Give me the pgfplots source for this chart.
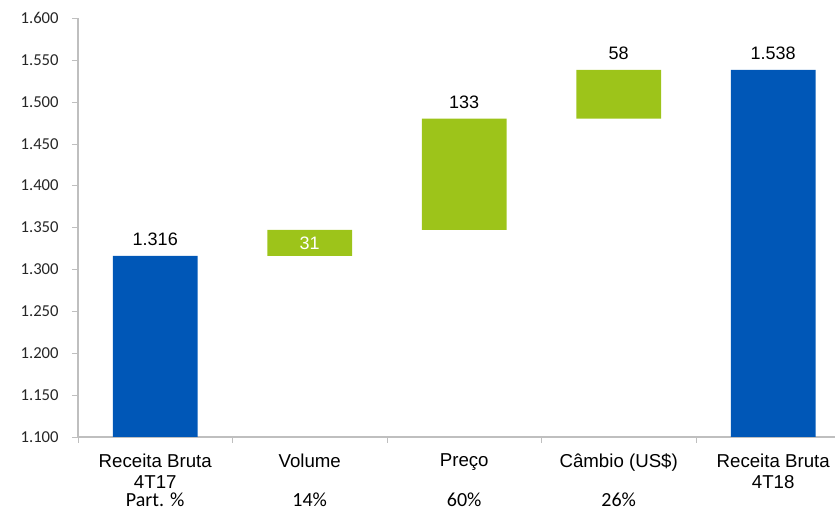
\documentclass[border=0pt]{standalone}
\usepackage{pgfplots}
\pgfplotsset{compat=1.18}
\usepackage{fontspec}
\setmainfont{Liberation Sans}
\newfontfamily\calib{Carlito}
\definecolor{barblue}{HTML}{0057B7}
\definecolor{bargreen}{HTML}{9DC41A}
\definecolor{axisgray}{HTML}{BFBFBF}
\begin{document}
\begin{tikzpicture}[x=1pt,y=1pt]
\useasboundingbox (-58.5pt,-54pt) rectangle (567.75pt,327.75pt);
\begin{axis}[
  at={(0,0)}, anchor=south west,
  scale only axis, width=567.75pt, height=314.25pt,
  ybar stacked, bar width=63.5pt,
  xmin=-0.5, xmax=4.4, ymin=1100, ymax=1600,
  ytick={1100,1150,...,1600},
  /pgf/number format/1000 sep={.},
  /pgf/number format/assume math mode=true,
  yticklabel style={font=\calib\fontsize{12.5}{14}\selectfont, text=black!85, xshift=-6.5pt},
  xtick={0,1,2,3,4},
  xticklabels={{Receita Bruta\\4T17},{Volume},{Preço},{Câmbio (US\$)},{Receita Bruta\\4T18}},
  xticklabel style={font=\fontsize{14}{15.5}\selectfont, align=center, anchor=north, inner sep=1pt, yshift=-7pt, text=black},
  major x tick style={draw=none},
  minor xtick={-0.5,0.5,1.5,2.5,3.5},
  minor x tick style={draw=axisgray},
  minor tick length=4.5pt,
  major tick length=4.5pt,
  tick align=outside,
  ytick style={draw=axisgray},
  axis lines*=left,
  axis line style={draw=axisgray, line width=0.9pt},
  clip mode=individual,
]
\addplot[draw=none, fill=none] coordinates {(0,0) (1,1316) (2,1347) (3,1480) (4,0)};
\addplot[draw=none, fill=barblue] coordinates {(0,1316) (1,0) (2,0) (3,0) (4,1538)};
\addplot[draw=none, fill=bargreen] coordinates {(0,0) (1,31) (2,133) (3,58) (4,0)};
\coordinate (l0) at (axis cs:0,1316);
\coordinate (l1) at (axis cs:1,1331.5);
\coordinate (l2) at (axis cs:2,1480);
\coordinate (l3) at (axis cs:3,1538);
\coordinate (l4) at (axis cs:4,1538);
\coordinate (p0) at (axis cs:0,1100);
\coordinate (p1) at (axis cs:1,1100);
\coordinate (p2) at (axis cs:2,1100);
\coordinate (p3) at (axis cs:3,1100);
\end{axis}
\begin{scope}[font=\fontsize{13.5}{15}\selectfont]
\node[anchor=south, inner sep=0pt, yshift=7.5pt] at (l0) {1.316};
\node[text=white] at (l1) {31};
\node[anchor=south, inner sep=0pt, yshift=7.5pt] at (l2) {133};
\node[anchor=south, inner sep=0pt, yshift=7.5pt] at (l3) {58};
\node[anchor=south, inner sep=0pt, yshift=7.5pt] at (l4) {1.538};
\end{scope}
\begin{scope}[font=\calib\fontsize{15}{17}\selectfont]
\node[anchor=base, inner sep=0pt, yshift=-52pt] at (p0) {Part. \%};
\node[anchor=base, inner sep=0pt, yshift=-52pt] at (p1) {14\%};
\node[anchor=base, inner sep=0pt, yshift=-52pt] at (p2) {60\%};
\node[anchor=base, inner sep=0pt, yshift=-52pt] at (p3) {26\%};
\end{scope}
\end{tikzpicture}
\end{document}
